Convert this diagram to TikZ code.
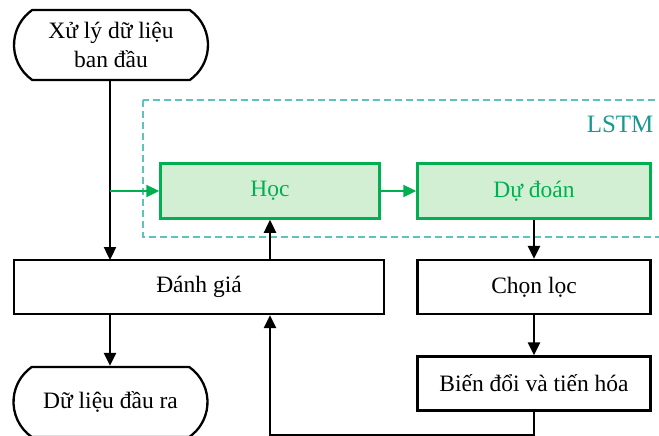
\documentclass[tikz,border=0pt]{standalone}
\usepackage{fontspec}
\setmainfont{Liberation Serif}
\usetikzlibrary{arrows.meta,shapes.misc}
\definecolor{lstmgreen}{HTML}{00B050}
\definecolor{lstmfill}{HTML}{D2EFD3}
\definecolor{frameteal}{HTML}{5CC3BF}
\definecolor{labelteal}{HTML}{18998F}
\begin{document}
\begin{tikzpicture}[x=1pt,y=-1pt,
  every node/.style={font=\fontsize{23.5}{29}\selectfont},
  box/.style={draw=black,line width=2.3pt,minimum height=54pt,inner sep=0pt},
  netbox/.style={draw=lstmgreen,fill=lstmfill,text=lstmgreen,line width=2.5pt,
    minimum height=55pt,inner sep=0pt},
  term/.style={draw,line width=2.3pt,rounded rectangle,rounded rectangle arc length=110,
    minimum height=70pt,minimum width=194pt,inner sep=0pt,align=center},
  flow/.style={line width=2.4pt,-{Triangle[length=13pt,width=12pt]}},
  gflow/.style={flow,draw=lstmgreen},
]
\useasboundingbox (0,0) rectangle (659,436);
\clip (0,0) rectangle (659,436);

% LSTM frame
\draw[frameteal,line width=1.4pt,dash pattern=on 7pt off 4pt] (143,100) rectangle (680,237);
\node[anchor=east,text=labelteal,font=\fontsize{25}{29}\selectfont] (lstm) at (657,124) {LSTM};

% terminals
\node[term] (start) at (111,45) {Xử lý dữ liệu\\ban đầu};
\node[term] (out) at (110.5,402) {Dữ liệu đầu ra};

% process boxes
\node[box,minimum width=370pt] (eval) at (199,287) {Đánh giá};
\node[netbox,minimum width=219pt] (hoc) at (270,191) {Học};
\node[netbox,minimum width=233pt] (pred) at (534,191) {Dự đoán};
\node[box,minimum width=233pt] (sel) at (534,287) {Chọn lọc};
\node[box,minimum width=233pt] (evo) at (534,383.5) {Biến đổi và tiến hóa};

% connectors
\coordinate (split) at (110,191);
\coordinate (evaltop) at (110,260);
\draw[flow] (start.south -| split) -- (evaltop);
\draw[gflow] (split) -- (hoc.west);
\draw[gflow] (hoc.east) -- (pred.west);
\draw[flow] (hoc.south |- eval.north) -- (hoc.south);
\draw[flow] (pred.south) -- (sel.north);
\draw[flow] (sel.south) -- (evo.south |- evo.north);
\draw[flow] (eval.south -| split) -- (out.north -| split);
\coordinate (loopr) at (534,435);
\coordinate (loopl) at (270,435);
\draw[flow] (evo.south) -- (loopr) -- (loopl) -- (hoc.south |- eval.south);
\end{tikzpicture}
\end{document}
